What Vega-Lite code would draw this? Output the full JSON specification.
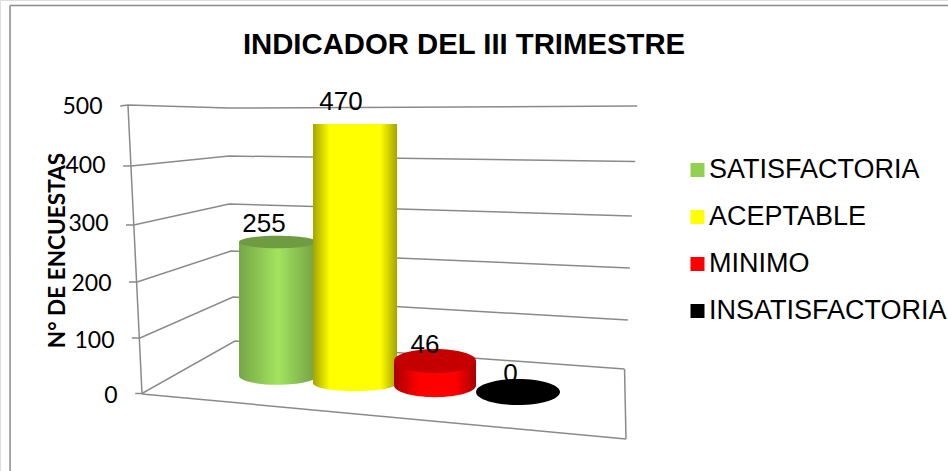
{
"$schema":"https://vega.github.io/schema/vega-lite/v6.json",
"width":948,"height":471,"padding":0,"autosize":{"type":"none"},"background":"white",
"title":{"text":"INDICADOR DEL III TRIMESTRE","font":"Liberation Sans","fontSize":29.3,"fontWeight":"bold","color":"black","anchor":"middle","dx":-10,"offset":-60},
"datasets":{
"indicadores":[
{"indicador":"SATISFACTORIA","encuestas":255,"pie":24},
{"indicador":"ACEPTABLE","encuestas":470,"pie":13},
{"indicador":"MINIMO","encuestas":46,"pie":10},
{"indicador":"INSATISFACTORIA","encuestas":0,"pie":0}],
"marco":[
{"linea":"borde-izq","x":-27.27,"y":674.8},{"linea":"borde-izq","x":-27.26,"y":-134.8},
{"linea":"borde-sup","x":-27.27,"y":674.8},{"linea":"borde-sup","x":166.53,"y":674.8},
{"linea":"g500","x":-4.5,"y":500},{"linea":"g500","x":-2.9,"y":501.7},{"linea":"g500","x":18,"y":496.5},{"linea":"g500","x":102.3,"y":500},
{"linea":"g400","x":-3.9,"y":395.7},{"linea":"g400","x":-2.3,"y":395.7},{"linea":"g400","x":18,"y":413},{"linea":"g400","x":101.9,"y":403.5},
{"linea":"g300","x":-3.3,"y":293},{"linea":"g300","x":-1.7,"y":293},{"linea":"g300","x":18,"y":329.6},{"linea":"g300","x":101.2,"y":308.7},
{"linea":"g200","x":-2.7,"y":193.9},{"linea":"g200","x":-1,"y":193.9},{"linea":"g200","x":18.4,"y":247.8},{"linea":"g200","x":100.8,"y":218.3},
{"linea":"g100","x":-2.1,"y":96.5},{"linea":"g100","x":-0.4,"y":96.5},{"linea":"g100","x":18.8,"y":167.8},{"linea":"g100","x":100.4,"y":127.8},
{"linea":"g0","x":-1.4,"y":0},{"linea":"g0","x":0,"y":0},{"linea":"g0","x":19.2,"y":91.3},{"linea":"g0","x":99.7,"y":42.6},
{"linea":"eje","x":-2.9,"y":501.7},{"linea":"eje","x":0,"y":0},
{"linea":"suelo","x":0,"y":-0.9},{"linea":"suelo","x":100,"y":-79},
{"linea":"lado","x":99.7,"y":42.6},{"linea":"lado","x":100,"y":-79}
]},
"resolve":{"scale":{"x":"independent","y":"independent"},"axis":{"y":"independent"}},
"layer":[
{"data":{"name":"marco"},
 "mark":{"type":"line","color":"#8a8a8a","strokeWidth":1.5,"clip":false},
 "encoding":{
  "x":{"field":"x","type":"quantitative","scale":{"domain":[-29.34,166.53],"nice":false,"zero":false},"axis":null},
  "y":{"field":"y","type":"quantitative","scale":{"domain":[-134.8,684.35],"nice":false,"zero":false},
   "axis":{"orient":"left","offset":-125,"values":[0,100,200,300,400,500],"title":"N° DE ENCUESTAS","titleFont":"Lato","titleFontSize":22.6,"titleFontWeight":"bold","titleColor":"black","titleX":-68,"titleY":250,"titleAngle":270,"titleAlign":"center","titleBaseline":"middle","labelFont":"Lato","labelFontSize":23,"labelColor":"black","labelAlign":"right","labelBaseline":"middle","labelOffset":{"expr":"datum.value==500?1:datum.value==400?2:datum.value==300?3:datum.value==200?5:datum.value==100?5:2"},"labelPadding":{"expr":"8+datum.value*0.03"},"domain":false,"ticks":false,"grid":false}},
  "detail":{"field":"linea","type":"nominal"}}},
{"data":{"name":"indicadores"},
 "encoding":{
  "x":{"field":"indicador","type":"nominal","scale":{"type":"point","domain":["SATISFACTORIA","ACEPTABLE","MINIMO","INSATISFACTORIA"],"range":[278,518],"padding":0},"axis":null},
  "y":{"field":"encuestas","type":"quantitative","scale":{"domain":[0,46,255,470],"range":[392,361,242,124],"zero":false,"nice":false},"axis":null}},
 "layer":[
  {"mark":{"type":"bar","size":70},
   "encoding":{"y2":{"field":"pie"},
    "color":{"field":"indicador","type":"nominal","scale":{"domain":["SATISFACTORIA","ACEPTABLE","MINIMO","INSATISFACTORIA"],"range":["#92d050","#ffff00","#ff0000","#000000"]},
     "legend":{"orient":"none","legendX":684,"legendY":156.5,"title":null,"padding":0,"symbolType":"square","symbolSize":196,"symbolStrokeWidth":0,"labelFont":"Liberation Sans","labelFontSize":27,"labelColor":"black","labelOffset":-2,"labelLimit":400,"rowPadding":19}}}},
  {"transform":[{"filter":"datum.indicador==='SATISFACTORIA'"}],
   "mark":{"type":"point","filled":true,"opacity":1,"size":6084,"shape":"M-1,0A1,0.23,0,1,1,1,0A1,0.23,0,1,1,-1,0Z","fill":{"gradient":"linear","x1":0,"x2":1,"y1":0,"y2":0,"stops":[{"offset":0,"color":"#76a646"},{"offset":0.5,"color":"#a2e35f"},{"offset":1,"color":"#729f44"}]}},
   "encoding":{"y":{"field":"pie","type":"quantitative"}}},
  {"transform":[{"filter":"datum.indicador==='SATISFACTORIA'"}],
   "mark":{"type":"bar","size":78,"fill":{"gradient":"linear","x1":0,"x2":1,"y1":0,"y2":0,"stops":[{"offset":0,"color":"#76a646"},{"offset":0.5,"color":"#a2e35f"},{"offset":1,"color":"#729f44"}]}},
   "encoding":{"y2":{"field":"pie"}}},
  {"transform":[{"filter":"datum.indicador==='SATISFACTORIA'"}],
   "mark":{"type":"point","filled":true,"opacity":1,"size":6084,"shape":"M-1,0A1,0.16,0,1,1,1,0A1,0.16,0,1,1,-1,0Z","fill":"#6f9c42"}},
  {"transform":[{"filter":"datum.indicador==='ACEPTABLE'"}],
   "mark":{"type":"point","filled":true,"opacity":1,"size":7056,"xOffset":-3,"shape":"M-1,0A1,0.19,0,1,1,1,0A1,0.19,0,1,1,-1,0Z","fill":{"gradient":"linear","x1":0,"x2":1,"y1":0,"y2":0,"stops":[{"offset":0,"color":"#a4a400"},{"offset":0.2,"color":"#ffff00"},{"offset":0.8,"color":"#ffff00"},{"offset":1,"color":"#a4a400"}]}},
   "encoding":{"y":{"field":"pie","type":"quantitative"}}},
  {"transform":[{"filter":"datum.indicador==='ACEPTABLE'"}],
   "mark":{"type":"bar","size":84,"xOffset":-3,"fill":{"gradient":"linear","x1":0,"x2":1,"y1":0,"y2":0,"stops":[{"offset":0,"color":"#a4a400"},{"offset":0.2,"color":"#ffff00"},{"offset":0.8,"color":"#ffff00"},{"offset":1,"color":"#a4a400"}]}},
   "encoding":{"y2":{"field":"pie"}}},
  {"transform":[{"filter":"datum.indicador==='MINIMO'"}],
   "mark":{"type":"point","filled":true,"opacity":1,"size":6724,"xOffset":-3,"shape":"M-1,0A1,0.29,0,1,1,1,0A1,0.29,0,1,1,-1,0Z","fill":{"gradient":"linear","x1":0,"x2":1,"y1":0,"y2":0,"stops":[{"offset":0,"color":"#a80000"},{"offset":0.3,"color":"#ff0000"},{"offset":0.75,"color":"#ff0000"},{"offset":1,"color":"#a80000"}]}},
   "encoding":{"y":{"field":"pie","type":"quantitative"}}},
  {"transform":[{"filter":"datum.indicador==='MINIMO'"}],
   "mark":{"type":"bar","size":82,"xOffset":-3,"fill":{"gradient":"linear","x1":0,"x2":1,"y1":0,"y2":0,"stops":[{"offset":0,"color":"#a80000"},{"offset":0.3,"color":"#ff0000"},{"offset":0.75,"color":"#ff0000"},{"offset":1,"color":"#a80000"}]}},
   "encoding":{"y2":{"field":"pie"}}},
  {"transform":[{"filter":"datum.indicador==='MINIMO'"}],
   "mark":{"type":"point","filled":true,"opacity":1,"size":6724,"xOffset":-3,"shape":"M-1,0A1,0.29,0,1,1,1,0A1,0.29,0,1,1,-1,0Z","fill":"#c40000"}},
  {"transform":[{"filter":"datum.indicador==='INSATISFACTORIA'"}],
   "mark":{"type":"text","font":"Liberation Sans","fontSize":26,"color":"black","baseline":"middle","xOffset":-7.5,"dy":-18},
   "encoding":{"text":{"field":"encuestas","type":"quantitative"}}},
  {"transform":[{"filter":"datum.indicador==='INSATISFACTORIA'"}],
   "mark":{"type":"point","filled":true,"opacity":1,"size":7056,"shape":"M-1,0A1,0.31,0,1,1,1,0A1,0.31,0,1,1,-1,0Z","fill":"#000000"}},
  {"transform":[{"filter":"datum.indicador==='SATISFACTORIA'"}],
   "mark":{"type":"text","font":"Liberation Sans","fontSize":26,"color":"black","baseline":"middle","xOffset":-14,"dy":-18},
   "encoding":{"text":{"field":"encuestas","type":"quantitative"}}},
  {"transform":[{"filter":"datum.indicador==='ACEPTABLE'"}],
   "mark":{"type":"text","font":"Liberation Sans","fontSize":26,"color":"black","baseline":"middle","xOffset":-17,"dy":-22},
   "encoding":{"text":{"field":"encuestas","type":"quantitative"}}},
  {"transform":[{"filter":"datum.indicador==='MINIMO'"}],
   "mark":{"type":"text","font":"Liberation Sans","fontSize":26,"color":"black","baseline":"middle","xOffset":-13,"dy":-16},
   "encoding":{"text":{"field":"encuestas","type":"quantitative"}}}
 ]}
]}
